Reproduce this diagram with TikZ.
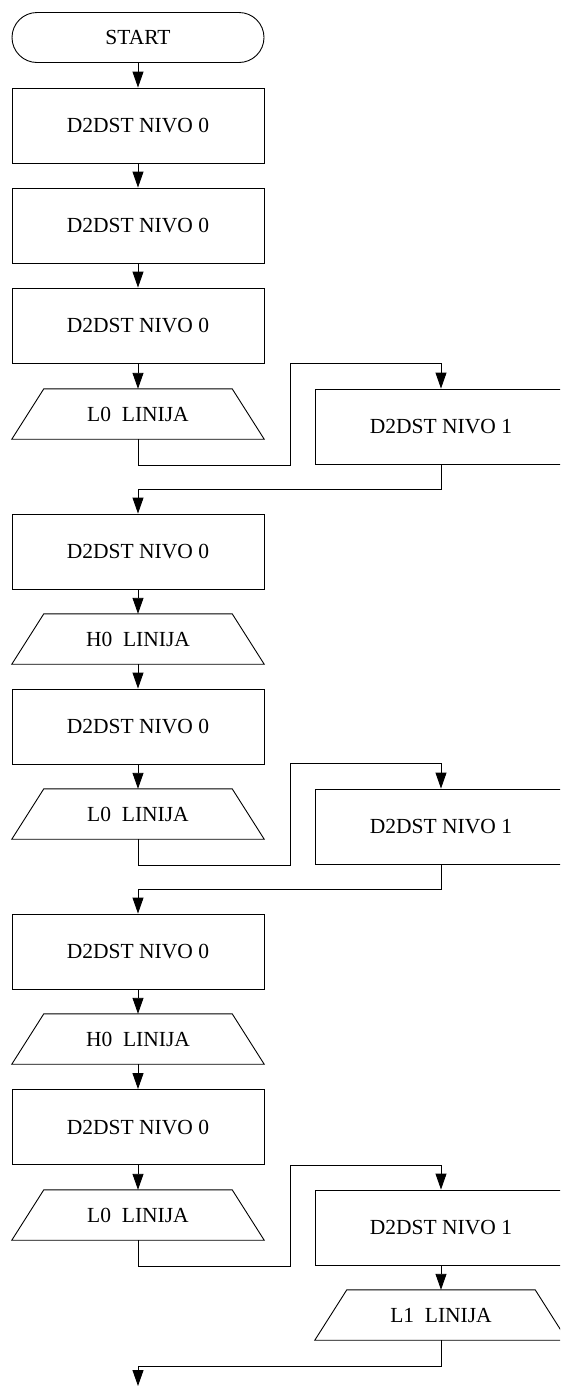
\documentclass[tikz,border=0pt]{standalone}
\usepackage{fontspec}
\setmainfont{Liberation Serif}
\usetikzlibrary{arrows.meta}
\newcommand\drawtrapz[1]{\draw[ln] (#1.south west) -- ([xshift=32pt]#1.north west) -- ([xshift=-32pt]#1.north east) -- (#1.south east) -- cycle;}
\begin{document}
\begin{tikzpicture}[x=1pt,y=-1pt,
  every node/.style={font=\fontsize{21.5}{25}\selectfont, inner sep=0pt},
  procbox/.style={draw, line width=0.9pt, minimum width=252pt, minimum height=75pt},
  iobox/.style={minimum width=252pt, minimum height=50pt},
  termbox/.style={draw, line width=0.9pt, rounded corners=25pt, minimum width=252pt, minimum height=50pt},
  arr/.style={line width=0.9pt, -{Triangle[length=16pt,width=11pt]}},
  ln/.style={line width=0.9pt}]
\useasboundingbox (0,0) rectangle (560,1387);
\clip (0,0) rectangle (560,1387);
% nodes
\node[termbox] (start) at (138,37.5) {START};
\node[procbox] (b1) at (138,125.5) {D2DST NIVO 0};
\node[procbox] (b2) at (138,225.5) {D2DST NIVO 0};
\node[procbox] (b3) at (138,325.5) {D2DST NIVO 0};
\node[iobox] (t1) at (138,414) {L0~~LINIJA};
\node[procbox] (r1) at (441,426.5) {D2DST NIVO 1};
\node[procbox] (b4) at (138,551.5) {D2DST NIVO 0};
\node[iobox] (h1) at (138,639) {H0~~LINIJA};
\node[procbox] (b5) at (138,726.5) {D2DST NIVO 0};
\node[iobox] (t2) at (138,814) {L0~~LINIJA};
\node[procbox] (r2) at (441,826.5) {D2DST NIVO 1};
\node[procbox] (b6) at (138,951.5) {D2DST NIVO 0};
\node[iobox] (h2) at (138,1039) {H0~~LINIJA};
\node[procbox] (b7) at (138,1127) {D2DST NIVO 0};
\node[iobox] (t3) at (138,1215) {L0~~LINIJA};
\node[procbox] (r3) at (441,1227.5) {D2DST NIVO 1};
\node[iobox] (l1) at (441,1315) {L1~~LINIJA};
\drawtrapz{t1}
\drawtrapz{h1}
\drawtrapz{t2}
\drawtrapz{h2}
\drawtrapz{t3}
\drawtrapz{l1}
% helper coordinates
\coordinate (ja1) at (290,465);
\coordinate (jb1) at (290,363.5);
\coordinate (ra1) at (138,489);
\coordinate (ja2) at (290,865);
\coordinate (jb2) at (290,763.5);
\coordinate (ra2) at (138,889);
\coordinate (ja3) at (290,1266);
\coordinate (jb3) at (290,1165);
\coordinate (ra3) at (138,1366);
\coordinate (fin) at (138,1386);
% connectors
\draw[arr] (start) -- (b1);
\draw[arr] (b1) -- (b2);
\draw[arr] (b2) -- (b3);
\draw[arr] (b3) -- (t1);
\draw[arr] (t1.south) |- (ja1) -- (jb1) -| (r1.north);
\draw[arr] (r1.south) |- (ra1) -| (b4.north);
\draw[arr] (b4) -- (h1);
\draw[arr] (h1) -- (b5);
\draw[arr] (b5) -- (t2);
\draw[arr] (t2.south) |- (ja2) -- (jb2) -| (r2.north);
\draw[arr] (r2.south) |- (ra2) -| (b6.north);
\draw[arr] (b6) -- (h2);
\draw[arr] (h2) -- (b7);
\draw[arr] (b7) -- (t3);
\draw[arr] (t3.south) |- (ja3) -- (jb3) -| (r3.north);
\draw[arr] (r3) -- (l1);
\draw[arr] (l1.south) |- (ra3) -- (fin);
\end{tikzpicture}
\end{document}
